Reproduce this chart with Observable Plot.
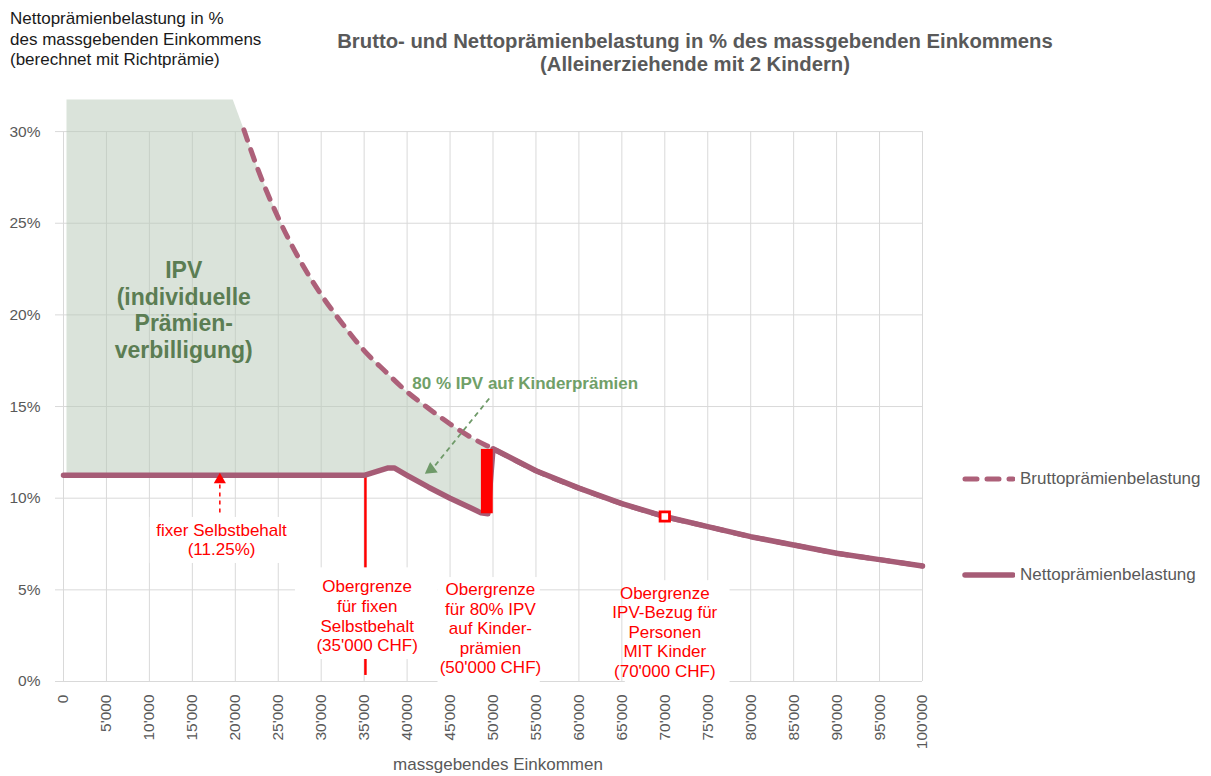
<!DOCTYPE html>
<html><head><meta charset="utf-8">
<script src="https://cdn.jsdelivr.net/npm/d3@7"></script>
<script src="https://cdn.jsdelivr.net/npm/@observablehq/plot@0.6"></script>
<style>
body{margin:0;background:#fff;font-family:"Liberation Sans",Arial,sans-serif;}
#wrap{position:relative;width:1211px;height:776px;overflow:hidden;}
#wrap svg.chart{position:absolute;left:0;top:0;}
.abs{position:absolute;white-space:nowrap;}
</style></head><body>
<div id="wrap">
  <div class="abs" id="ytitle" style="left:10px;top:9px;font-size:17px;line-height:20.5px;color:#1a1a1a;">Nettoprämienbelastung in %<br>des massgebenden Einkommens<br>(berechnet mit Richtprämie)</div>
  <div class="abs" id="title" style="left:695px;top:30px;transform:translateX(-50%);text-align:center;font-size:20.3px;line-height:23px;font-weight:bold;color:#595959;">Brutto- und Nettoprämienbelastung in % des massgebenden Einkommens<br>(Alleinerziehende mit 2 Kindern)</div>
  <div class="abs" id="xtitle" style="left:498px;top:754px;transform:translateX(-50%);font-size:17px;line-height:22px;color:#595959;">massgebendes Einkommen</div>
</div>
<script>
// ---- data ----
const xTicks = [0,5000,10000,15000,20000,25000,30000,35000,40000,45000,50000,55000,60000,65000,70000,75000,80000,85000,90000,95000,100000];
const yTicks = [0,5,10,15,20,25,30];

const bruttoIncome = [21000,22500,25000,27500,30000,32500,35000,37500,40000,42500,45000,47500,50000,55000,60000,65000,70000,75000,80000,85000,90000,95000,100000];
const bruttoPct    = [30.1, 28.1, 25.3, 23.0, 21.1, 19.5, 18.05,16.9, 15.8, 14.9, 14.05,13.3, 12.7, 11.5, 10.55,9.7,  9.0,  8.45, 7.9,  7.45, 7.0,  6.65, 6.3];

const netIncome = [0,    35000,37800,38500,40000,42500,45000,47500,48600,49400,50000,55000,60000,65000,70000,75000,80000,85000,90000,95000,100000];
const netPct    = [11.25,11.25,11.65,11.65,11.25,10.6, 10.0, 9.45, 9.2,  9.15, 12.7, 11.5, 10.55,9.7,  9.0,  8.45, 7.9,  7.45, 7.0,  6.65, 6.3];

// IPV area: top edge of the shaded region (capped at chart top)
const ipvTopIncome = [350, 19700];
const ipvTopPct    = [31.75, 31.75];

// red bar at the 80 % IPV limit
const barIncome = [48650, 50030];
const barPct    = [9.15, 12.66];

// annotations
const limitIncome = [35150];
const limitPct = [0.33, 11.25];
const markIncome = [70000];
const markPct = [9.0];

const redLabels = ["fixer Selbstbehalt\n(11.25%)", "Obergrenze\nfür fixen\nSelbstbehalt\n(35'000 CHF)", "Obergrenze\nfür 80% IPV\nauf Kinder-\nprämien\n(50'000 CHF)", "Obergrenze\nIPV-Bezug für\nPersonen\nMIT Kinder\n(70'000 CHF)"];
const redLabelIncome = [18400, 35350, 49700, 70000];
const redLabelPct    = [7.77, 3.6, 2.92, 2.73];
const boxIncome1 = [10100, 27000, 43600, 65400];
const boxIncome2 = [26800, 43600, 55500, 77600];
const boxPct1    = [6.44, 1.2, -0.25, -0.1];
const boxPct2    = [8.95, 6.2, 5.67, 5.5];

const redArrowIncome = 18200, redArrowFrom = 9.22, redArrowTo = 10.75, redArrowHead = 11.0;
const greenArrow = {x1: 49560, y1: 15.44, x2: 43100, y2: 11.69, hx: 42770, hy: 11.57};

const ipvLabel = "IPV\n(individuelle\nPrämien-\nverbilligung)";
const ipvLabelPos = [14000, 20.3];
const kidLabel = "80 % IPV auf Kinderprämien";
const kidLabelPos = [53750, 16.26];

const seriesNames = ["Bruttoprämienbelastung", "Nettoprämienbelastung"];

// ---- build ----
const yMax = 31.75;
const lineColor = "#a65c76";
const bruttoPts = bruttoIncome.map((x, i) => [x, bruttoPct[i]]);
const netPts = netIncome.map((x, i) => [x, netPct[i]]);
const upper = [...ipvTopIncome.map((x, i) => [x, ipvTopPct[i]]), ...bruttoPts.filter(d => d[0] <= 50000)];
const lower = netPts.filter(d => d[0] > ipvTopIncome[0] && d[0] <= 49400).reverse();
const ipvPoly = [...upper, ...lower, [ipvTopIncome[0], netPct[0]]];

const fmtX = d3.formatLocale({decimal: ".", thousands: "'", grouping: [3], currency: ["", ""]}).format(",");

const labelRows = redLabels.map((t, i) => ({t, x: redLabelIncome[i], y: redLabelPct[i], x1: boxIncome1[i], x2: boxIncome2[i], y1: boxPct1[i], y2: boxPct2[i]}));

const chart = Plot.plot({
  width: 1211, height: 776,
  marginLeft: 63, marginRight: 289, marginTop: 99, marginBottom: 95,
  x: {domain: [0, 100000]},
  y: {domain: [0, yMax]},
  style: {fontFamily: '"Liberation Sans", Arial, sans-serif', fontSize: "15.5px", color: "#595959", background: "transparent"},
  marks: [
    Plot.ruleX(xTicks, {x: d => d, y1: 0, y2: 30, stroke: "#d9d9d9", strokeWidth: 1}),
    Plot.ruleY(yTicks, {y: d => d, x1: 0, x2: 100000, stroke: "#d9d9d9", strokeWidth: 1}),
    Plot.axisY({ticks: yTicks, tickFormat: d => d + "%", tickSize: 8, tickPadding: 15, stroke: "#d9d9d9", fill: "#595959", fontSize: 15.5, label: null}),
    Plot.axisX({ticks: xTicks, tickFormat: fmtX, tickRotate: -90, tickSize: 0, tickPadding: 13, fill: "#595959", fontSize: 15.5, label: null}),
    Plot.line(ipvPoly, {x: d => d[0], y: d => d[1], fill: "#b5c7b5", fillOpacity: 0.5, stroke: "none", curve: "linear"}),
    Plot.ruleX(limitIncome, {x: d => d, y1: limitPct[0], y2: limitPct[1], stroke: "red", strokeWidth: 2.5}),
    Plot.line(bruttoPts, {x: d => d[0], y: d => d[1], stroke: "#ad6079", strokeWidth: 5, strokeDasharray: "11,10", strokeLinecap: "round", curve: "monotone-x"}),
    Plot.line(netPts, {x: d => d[0], y: d => d[1], stroke: lineColor, strokeWidth: 5.5, strokeLinecap: "round", strokeLinejoin: "round"}),
    Plot.rect([0], {x1: () => barIncome[0], x2: () => barIncome[1], y1: () => barPct[0], y2: () => barPct[1], fill: "red"}),
    Plot.dot(markIncome, {x: d => d, y: (d, i) => markPct[i], symbol: "square", r: 5.3, stroke: "red", fill: "white", strokeWidth: 2.8}),
    // red arrow to the fixed deductible
    Plot.link([0], {x1: () => redArrowIncome, x2: () => redArrowIncome, y1: () => redArrowFrom, y2: () => redArrowTo, stroke: "red", strokeWidth: 1.5, strokeDasharray: "4,4"}),
    Plot.dot([0], {x: () => redArrowIncome, y: () => redArrowHead, symbol: "triangle", r: 4.5, fill: "red", stroke: "none"}),
    // green arrow
    Plot.link([greenArrow], {x1: "x1", y1: "y1", x2: "x2", y2: "y2", stroke: "#6f9a69", strokeWidth: 1.8, strokeDasharray: "5,4"}),
    Plot.dot([greenArrow], {x: "hx", y: "hy", symbol: "triangle", r: 4.8, rotate: 234, fill: "#6f9a69", stroke: "none"}),
    // label boxes + texts
    Plot.rect(labelRows, {x1: "x1", x2: "x2", y1: "y1", y2: "y2", fill: "white"}),
    Plot.text(labelRows, {x: "x", y: "y", text: "t", fill: "red", fontSize: 17, lineHeight: 1.15}),
    Plot.text([ipvLabel], {x: () => ipvLabelPos[0], y: () => ipvLabelPos[1], text: d => d, fill: "#5b7d53", fontSize: 23, fontWeight: "bold", lineHeight: 1.15}),
    Plot.text([kidLabel], {x: () => kidLabelPos[0], y: () => kidLabelPos[1], text: d => d, fill: "#70a068", fontSize: 17, fontWeight: "bold"})
  ]
});
chart.classList.add("chart");
const wrap = document.getElementById("wrap");
wrap.insertBefore(chart, wrap.firstChild);

// legend
const legendY = [479, 575];
const lg = d3.select(wrap).append("svg").attr("class", "abs").attr("width", 60).attr("height", 776)
  .style("left", "955px").style("top", "0px");
lg.append("line").attr("x1", 10).attr("x2", 58).attr("y1", legendY[0]).attr("y2", legendY[0])
  .attr("stroke", "#ad6079").attr("stroke-width", 5).attr("stroke-dasharray", "12,10").attr("stroke-linecap", "round");
lg.append("line").attr("x1", 10).attr("x2", 58).attr("y1", legendY[1]).attr("y2", legendY[1])
  .attr("stroke", lineColor).attr("stroke-width", 5.5).attr("stroke-linecap", "round");
seriesNames.forEach((n, i) => {
  d3.select(wrap).append("div").attr("class", "abs")
    .style("left", "1020px").style("top", (legendY[i] - 11) + "px")
    .style("font-size", "17px").style("line-height", "22px").style("color", "#595959").text(n);
});
</script>
</body></html>
